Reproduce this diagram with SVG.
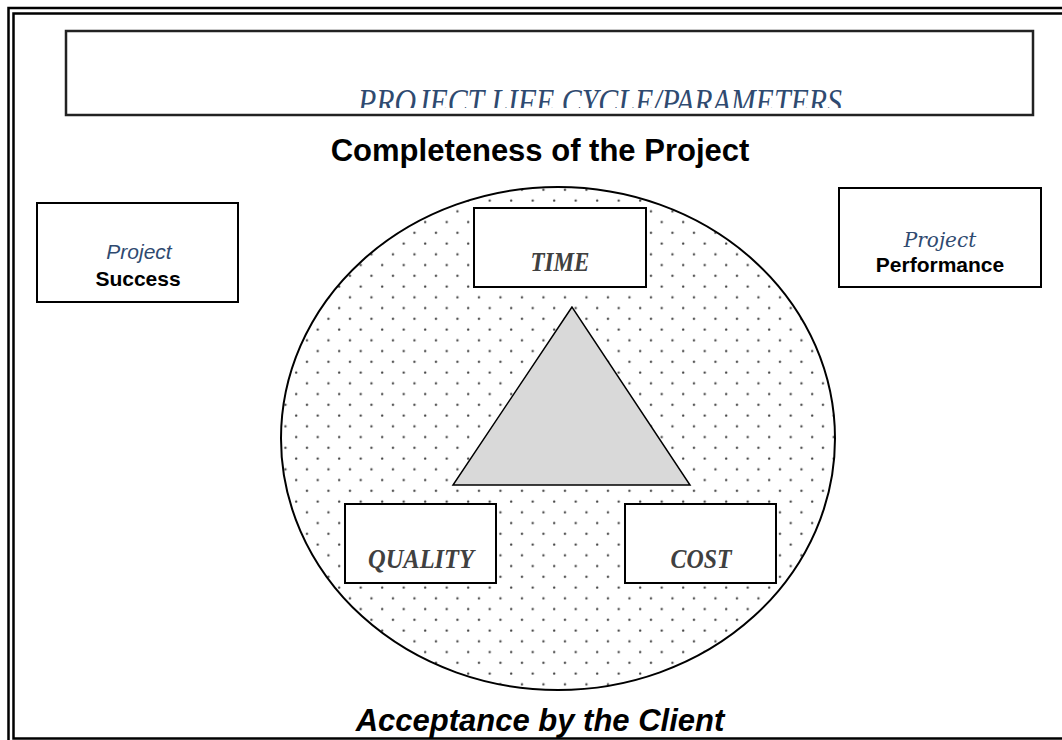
<svg xmlns="http://www.w3.org/2000/svg" width="1062" height="740" viewBox="0 0 1062 740">
  <style>
    .box { fill: #ffffff; stroke: #000000; stroke-width: 2; }
    .param { font-family: "Liberation Serif", serif; font-style: italic; font-weight: bold; font-size: 27px; fill: #404040; text-anchor: middle; }
    .heading { font-family: "Liberation Sans", Arial, sans-serif; font-weight: bold; font-size: 31px; fill: #000000; text-anchor: middle; }
    .label { font-family: "Liberation Sans", Arial, sans-serif; font-weight: bold; font-size: 21px; fill: #000000; text-anchor: middle; }
    .proj-sans { font-family: "Liberation Sans", Arial, sans-serif; font-style: italic; font-size: 21px; fill: #2f4a70; text-anchor: middle; }
    .proj-serif { font-family: "DejaVu Serif", serif; font-style: italic; font-size: 20px; fill: #2f4a70; text-anchor: middle; }
  </style>
  <defs>
    <pattern id="dots" patternUnits="userSpaceOnUse" x="312.7" y="345.5" width="21.5" height="21.5">
      <circle cx="5" cy="5.5" r="1.2" fill="#444444"/>
      <circle cx="15.75" cy="16.25" r="1.2" fill="#444444"/>
    </pattern>
    <clipPath id="titleClip">
      <rect x="66" y="31" width="967" height="77"/>
    </clipPath>
  </defs>

  <rect x="0" y="0" width="1062" height="740" fill="#ffffff"/>

  <g id="frame" fill="none" stroke="#000000">
    <rect x="8.5" y="8" width="1080" height="760" stroke-width="2.5"/>
    <rect x="13.5" y="13.5" width="1080" height="725" stroke-width="2.5"/>
  </g>

  <g id="title">
    <rect x="66" y="31" width="967" height="84" fill="#ffffff" stroke="#222222" stroke-width="2.5"/>
    <text x="600" y="114" clip-path="url(#titleClip)" font-family="Liberation Serif, serif" font-style="italic" font-size="36" fill="#2f4a70" text-anchor="middle" textLength="484" lengthAdjust="spacingAndGlyphs">PROJECT LIFE CYCLE/PARAMETERS</text>
  </g>

  <g id="completeness">
    <text class="heading" x="540" y="161">Completeness of the Project</text>
  </g>

  <g id="success">
    <rect class="box" x="37" y="203" width="201" height="99"/>
    <text class="proj-sans" x="139" y="259">Project</text>
    <text class="label" x="138" y="286">Success</text>
  </g>

  <g id="performance">
    <rect class="box" x="839" y="188" width="202" height="99"/>
    <text class="proj-serif" x="940" y="247">Project</text>
    <text class="label" x="940" y="272">Performance</text>
  </g>

  <g id="scope">
    <ellipse cx="558" cy="438.5" rx="277" ry="251.5" fill="#ffffff"/>
    <ellipse cx="558" cy="438.5" rx="277" ry="251.5" fill="url(#dots)" stroke="#000000" stroke-width="2"/>
  </g>

  <g id="triangle">
    <polygon points="572,307 453,485 690,485" fill="#d9d9d9" stroke="#000000" stroke-width="1.5"/>
  </g>

  <g id="time">
    <rect class="box" x="474" y="208" width="172" height="79"/>
    <text class="param" x="560" y="271" textLength="59" lengthAdjust="spacingAndGlyphs">TIME</text>
  </g>

  <g id="quality">
    <rect class="box" x="345" y="504" width="151" height="79"/>
    <text class="param" x="421" y="568" textLength="106" lengthAdjust="spacingAndGlyphs">QUALITY</text>
  </g>

  <g id="cost">
    <rect class="box" x="625" y="504" width="151" height="79"/>
    <text class="param" x="701" y="568" textLength="61" lengthAdjust="spacingAndGlyphs">COST</text>
  </g>

  <g id="acceptance">
    <text class="heading" x="540" y="731" font-style="italic">Acceptance by the Client</text>
  </g>

  <g id="connectors"/>
</svg>
